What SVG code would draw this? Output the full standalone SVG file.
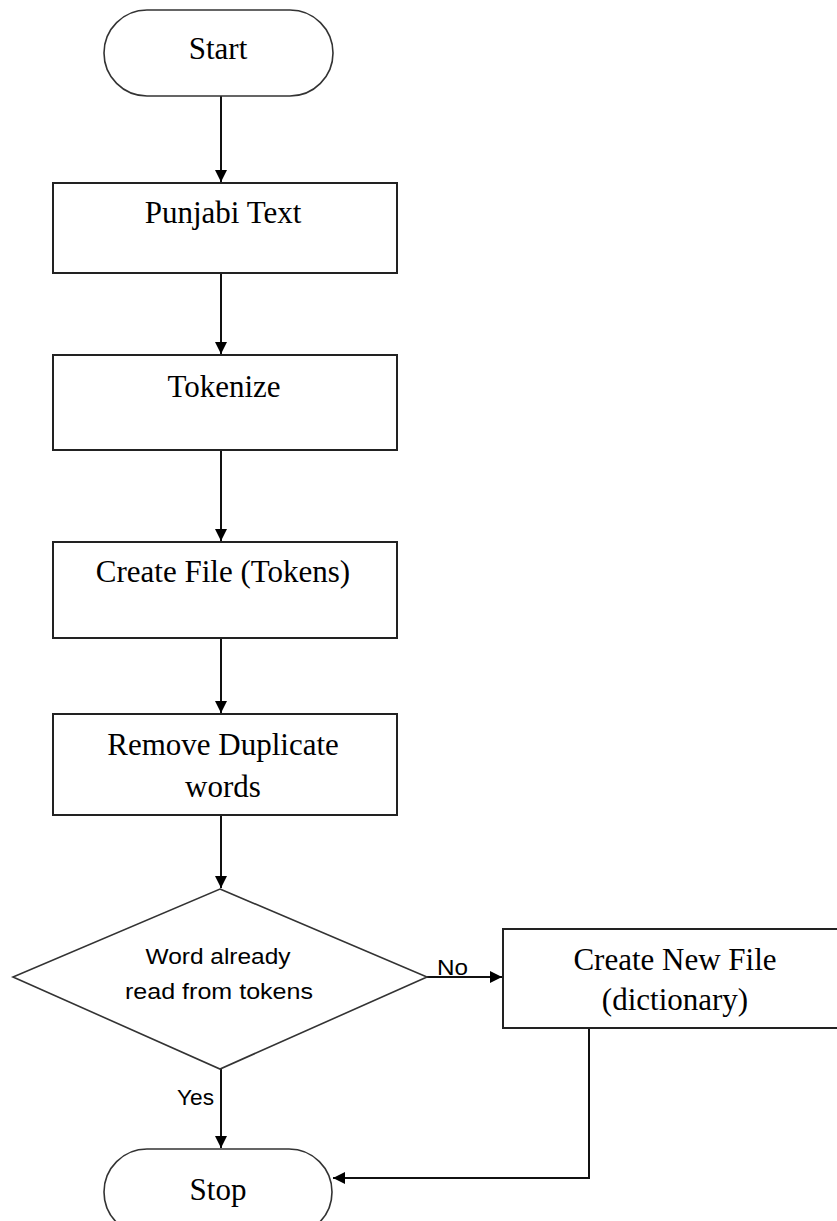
<svg xmlns="http://www.w3.org/2000/svg" width="837" height="1221" viewBox="0 0 837 1221">
  <style>
    .box { fill: #ffffff; stroke: #222222; stroke-width: 2; }
    .term { fill: #ffffff; stroke: #333333; stroke-width: 1.6; }
    .dec { fill: #ffffff; stroke: #333333; stroke-width: 1.6; }
    .lbl { font-family: "Liberation Serif", "Times New Roman", serif; font-size: 31px; fill: #000000; text-anchor: middle; }
    .sans { font-family: "Liberation Sans", Arial, sans-serif; font-size: 22px; fill: #000000; }
    .conn { fill: none; stroke: #111111; stroke-width: 2; }
  </style>
  <defs>
    <marker id="arrow" viewBox="0 0 10 10" refX="10" refY="5" markerWidth="6.5" markerHeight="6" markerUnits="strokeWidth" orient="auto">
      <path d="M0,0 L10,5 L0,10 z" fill="#000000"/>
    </marker>
  </defs>

  <rect x="0" y="0" width="837" height="1221" fill="#ffffff"/>

  <!-- connectors -->
  <g id="connectors">
    <path class="conn" d="M221,96 V182" marker-end="url(#arrow)"/>
    <path class="conn" d="M221,273 V354" marker-end="url(#arrow)"/>
    <path class="conn" d="M221,450 V541" marker-end="url(#arrow)"/>
    <path class="conn" d="M221,638 V713" marker-end="url(#arrow)"/>
    <path class="conn" d="M221,815 V888" marker-end="url(#arrow)"/>
    <path class="conn" d="M427,977 H502" marker-end="url(#arrow)"/>
    <path class="conn" d="M221,1069 V1148" marker-end="url(#arrow)"/>
    <path class="conn" d="M589,1028 V1178 H333" marker-end="url(#arrow)"/>
    <text class="sans" x="437" y="975" textLength="31" lengthAdjust="spacingAndGlyphs">No</text>
    <text class="sans" x="177" y="1105" textLength="37" lengthAdjust="spacingAndGlyphs">Yes</text>
  </g>

  <g id="start">
    <rect class="term" x="104" y="10" width="229" height="86" rx="43" ry="43"/>
    <text class="lbl" x="218" y="59">Start</text>
  </g>

  <g id="punjabi-text">
    <rect class="box" x="53" y="183" width="344" height="90"/>
    <text class="lbl" x="223" y="223">Punjabi Text</text>
  </g>

  <g id="tokenize">
    <rect class="box" x="53" y="355" width="344" height="95"/>
    <text class="lbl" x="224" y="397">Tokenize</text>
  </g>

  <g id="create-file">
    <rect class="box" x="53" y="542" width="344" height="96"/>
    <text class="lbl" x="223" y="582">Create File (Tokens)</text>
  </g>

  <g id="remove-duplicates">
    <rect class="box" x="53" y="714" width="344" height="101"/>
    <text class="lbl" x="223" y="755">Remove Duplicate</text>
    <text class="lbl" x="223" y="797">words</text>
  </g>

  <g id="word-read">
    <polygon class="dec" points="220,889 427,977 220,1069 13,977"/>
    <text class="sans" x="218" y="964" text-anchor="middle" textLength="145" lengthAdjust="spacingAndGlyphs">Word already</text>
    <text class="sans" x="219" y="999" text-anchor="middle" textLength="188" lengthAdjust="spacingAndGlyphs">read from tokens</text>
  </g>

  <g id="create-new-file">
    <rect class="box" x="503" y="929" width="345" height="99"/>
    <text class="lbl" x="675" y="970">Create New File</text>
    <text class="lbl" x="675" y="1010">(dictionary)</text>
  </g>

  <g id="stop">
    <rect class="term" x="104" y="1149" width="228" height="86" rx="43" ry="43"/>
    <text class="lbl" x="218" y="1200">Stop</text>
  </g>
</svg>
